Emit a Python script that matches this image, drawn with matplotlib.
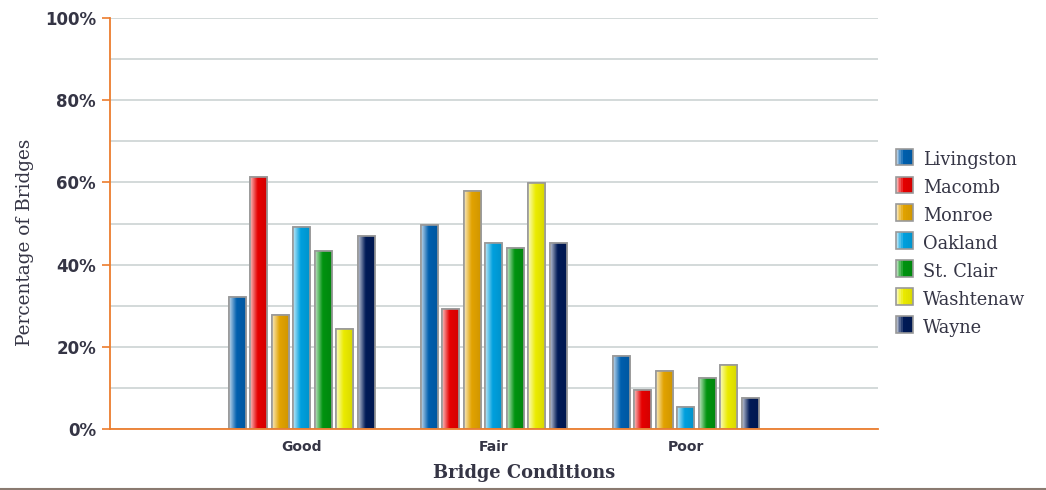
import numpy as np
import matplotlib
matplotlib.use("Agg")
import matplotlib.pyplot as plt
from matplotlib.colors import LinearSegmentedColormap, to_rgb
from matplotlib.patches import Rectangle
from matplotlib.lines import Line2D
from matplotlib.legend_handler import HandlerBase

conditions = ["Good", "Fair", "Poor"]
counties = ["Livingston", "Macomb", "Monroe", "Oakland", "St. Clair", "Washtenaw", "Wayne"]
colors = ["#005fae", "#e60000", "#e2a300", "#00a0de", "#00930f", "#ebeb00", "#001a57"]

livingston = [32.1, 49.6, 17.8]
macomb = [61.3, 29.2, 9.5]
monroe = [27.7, 57.9, 14.1]
oakland = [49.1, 45.3, 5.4]
st_clair = [43.3, 44.0, 12.4]
washtenaw = [24.3, 59.9, 15.6]
wayne = [47.0, 45.3, 7.5]
series = [livingston, macomb, monroe, oakland, st_clair, washtenaw, wayne]

axis_color = "#ec7d2e"
grid_color = "#ccd3d3"
text_color = "#353545"


def gradient_cmap(c):
    rgb = np.array(to_rgb(c))
    light = rgb + (1 - rgb) * 0.75
    return LinearSegmentedColormap.from_list("g", [(0, light), (0.45, rgb), (1, rgb * 0.92)])


class GradientHandler(HandlerBase):
    def create_artists(self, legend, orig, xd, yd, w, h, fontsize, trans):
        c = orig.get_facecolor()
        cmap = gradient_cmap(c)
        y0 = yd - 1.5
        arts = []
        n = 10
        for i in range(n):
            r = Rectangle((xd + w * i / n, y0), w / n, h, facecolor=cmap((i + 0.5) / n),
                          edgecolor="none", transform=trans)
            arts.append(r)
        arts.append(Rectangle((xd, y0), w, h, facecolor="none", edgecolor="#9a9a9a",
                              lw=1.2, transform=trans))
        return arts


fig = plt.figure(figsize=(10.46, 4.9), dpi=100)
ax = fig.add_axes([0.105, 0.1245, 0.734, 0.8385])

x = np.arange(len(conditions))
pitch = 0.112
width = 0.088
grad = np.linspace(0, 1, 64).reshape(1, -1)

handles = []
for i, (name, vals, c) in enumerate(zip(counties, series, colors)):
    offs = (i - 3) * pitch
    bars = ax.bar(x + offs, vals, width, color=c, edgecolor="#9a9a9a", linewidth=1.2,
                  zorder=3, label=name)
    cmap = gradient_cmap(c)
    for b in bars:
        bx, by = b.get_x(), b.get_y()
        bw, bh = b.get_width(), b.get_height()
        im = ax.imshow(grad, cmap=cmap, aspect="auto", extent=(bx, bx + bw, by, by + bh),
                       zorder=3.5, interpolation="bicubic")
        im.set_clip_path(b)
        ax.add_patch(Rectangle((bx, by), bw, bh, facecolor="none", edgecolor="#9a9a9a",
                               linewidth=1.2, zorder=4))
    handles.append(bars[0])

ax.set_xlim(-1, 3)
ax.set_ylim(0, 100)
ax.set_yticks(np.arange(0, 101, 20))
ax.set_yticklabels([f"{v}%" for v in range(0, 101, 20)])
ax.set_yticks(np.arange(0, 101, 10), minor=True)
ax.yaxis.grid(True, which="both", color=grid_color, linewidth=1.2, zorder=0)
ax.tick_params(axis="y", which="minor", length=0)
ax.tick_params(axis="y", which="major", length=6, width=1.2, color=axis_color,
               labelsize=12, labelcolor=text_color, pad=4)
ax.set_xticks(x)
ax.set_xticklabels(conditions)
ax.tick_params(axis="x", length=0, labelsize=10, labelcolor=text_color, pad=8)
for lbl in ax.get_yticklabels() + ax.get_xticklabels():
    lbl.set_fontweight("bold")
    lbl.set_family("DejaVu Sans")

for s in ["top", "right"]:
    ax.spines[s].set_visible(False)
for s in ["left", "bottom"]:
    ax.spines[s].set_color(axis_color)
    ax.spines[s].set_linewidth(1.3)
    ax.spines[s].set_zorder(5)

fig.text(0.024, 0.505, "Percentage of Bridges", family="DejaVu Serif", fontsize=13.3,
         color=text_color, rotation=90, ha="center", va="center")
fig.text(0.501, 0.035, "Bridge Conditions", family="DejaVu Serif", fontsize=12.9,
         fontweight="bold", color=text_color, ha="center", va="center")

leg = fig.legend(handles, counties, loc="upper left", bbox_to_anchor=(0.8566, 0.692),
                 frameon=False, handler_map={h: GradientHandler() for h in handles},
                 prop={"family": "DejaVu Serif", "size": 12.8}, labelcolor=text_color,
                 handlelength=0.95, handleheight=1.05, handletextpad=0.55, labelspacing=0.54,
                 borderpad=0, borderaxespad=0)

fig.add_artist(Line2D([0, 1], [0.003, 0.003], color="#8a7a70", lw=1.5,
                      transform=fig.transFigure))

fig.savefig("out.png", dpi=100)
